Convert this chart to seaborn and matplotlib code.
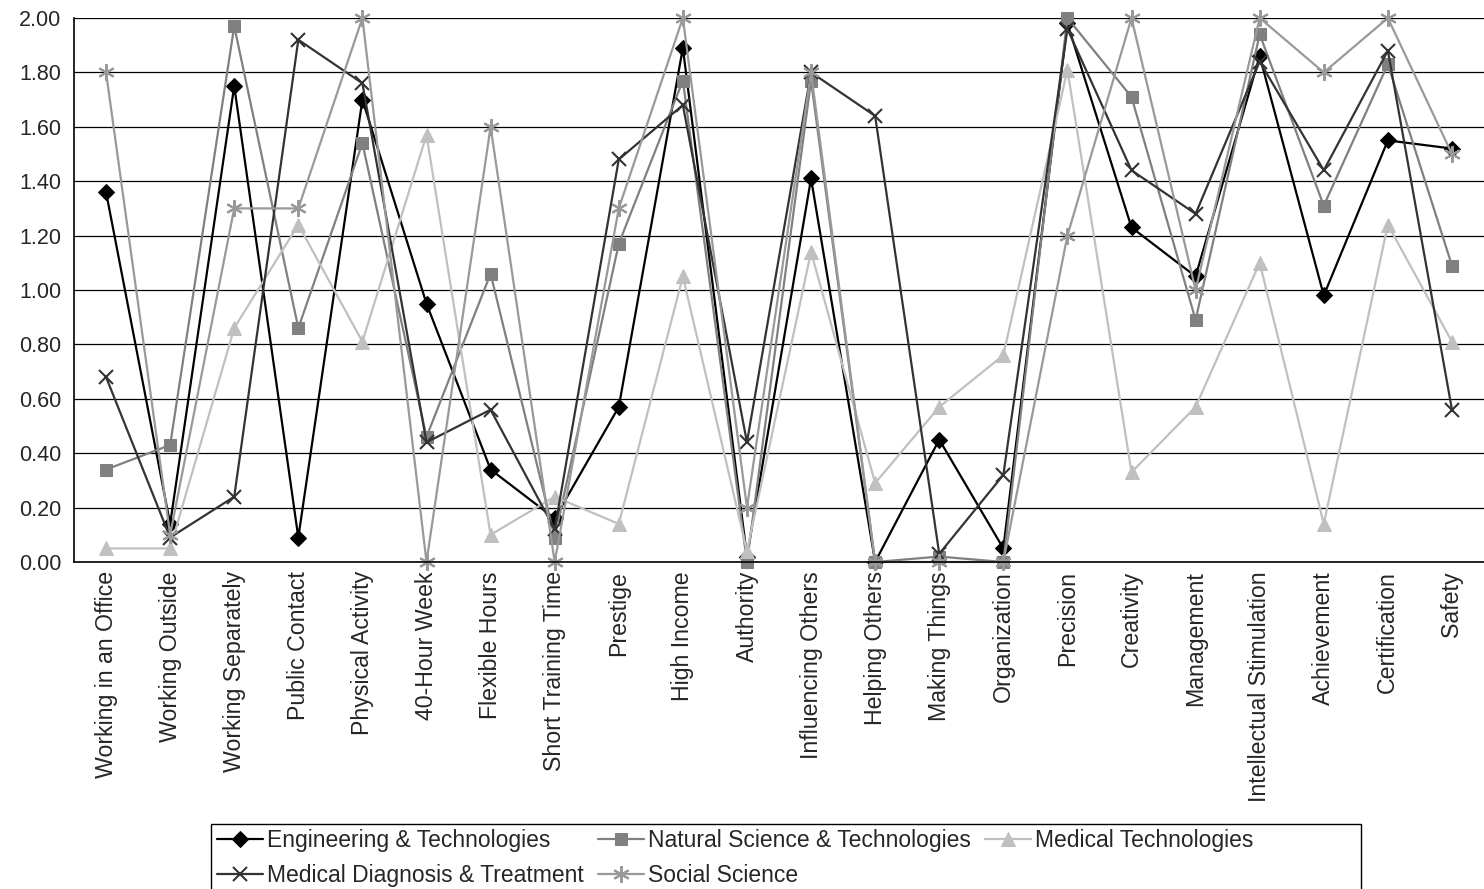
import numpy as np
import pandas as pd
import matplotlib
matplotlib.use("Agg")
import matplotlib.pyplot as plt
from matplotlib.patches import Rectangle
from matplotlib.ticker import FixedLocator, FormatStrFormatter
import seaborn as sns

# Work-value categories along the x axis
categories = [
    "Working in an Office", "Working Outside", "Working Separately", "Public Contact",
    "Physical Activity", "40-Hour Week", "Flexible Hours", "Short Training Time",
    "Prestige", "High Income", "Authority", "Influencing Others", "Helping Others",
    "Making Things", "Organization", "Precision", "Creativity", "Management",
    "Intellectual Stimulation", "Achievement", "Certification", "Safety",
]

engineering = [1.36, 0.14, 1.75, 0.09, 1.70, 0.95, 0.34, 0.16, 0.57, 1.89, 0.02,
               1.41, 0.00, 0.45, 0.05, 1.98, 1.23, 1.05, 1.86, 0.98, 1.55, 1.52]
natural_science = [0.34, 0.43, 1.97, 0.86, 1.54, 0.46, 1.06, 0.09, 1.17, 1.77, 0.00,
                   1.77, 0.00, 0.02, 0.00, 2.00, 1.71, 0.89, 1.94, 1.31, 1.83, 1.09]
medical_tech = [0.05, 0.05, 0.86, 1.24, 0.81, 1.57, 0.10, 0.24, 0.14, 1.05, 0.04,
                1.14, 0.29, 0.57, 0.76, 1.81, 0.33, 0.57, 1.10, 0.14, 1.24, 0.81]
medical_diag = [0.68, 0.09, 0.24, 1.92, 1.76, 0.44, 0.56, 0.12, 1.48, 1.68, 0.44,
                1.80, 1.64, 0.03, 0.32, 1.96, 1.44, 1.28, 1.84, 1.44, 1.88, 0.56]
social_science = [1.80, 0.10, 1.30, 1.30, 2.00, 0.00, 1.60, 0.00, 1.30, 2.00, 0.20,
                  1.80, 0.00, 0.00, 0.00, 1.20, 2.00, 1.00, 2.00, 1.80, 2.00, 1.50]

series_names = [
    "Engineering & Technologies",
    "Natural Science & Technologies",
    "Medical Technologies",
    "Medical Diagnosis & Treatment",
    "Social Science",
]
series_values = [engineering, natural_science, medical_tech, medical_diag, social_science]

styles = {
    "Engineering & Technologies": dict(color="#000000", marker="D", ms=8.5, mec="#000000"),
    "Natural Science & Technologies": dict(color="#808080", marker="s", ms=9, mec="#808080"),
    "Medical Technologies": dict(color="#C0C0C0", marker="^", ms=10, mec="#C0C0C0"),
    "Medical Diagnosis & Treatment": dict(color="#333333", marker="x", ms=10, mec="#333333", mew=1.5),
    "Social Science": dict(color="#999999", marker=(6, 2, 0), ms=12, mec="#999999", mew=1.5),
}

rows = []
for name, vals in zip(series_names, series_values):
    for i, (cat, v) in enumerate(zip(categories, vals)):
        rows.append({"series": name, "category": cat, "pos": i, "value": v})
df = pd.DataFrame(rows)

sns.set_style("white")
plt.rcParams["font.family"] = ["Liberation Sans", "DejaVu Sans"]

W, H = 1484, 889
fig = plt.figure(figsize=(W / 100, H / 100), dpi=100)
ax = fig.add_axes([74 / W, 1 - 562 / H, (W - 74) / W, (562 - 18) / H])

for name in series_names:
    st = styles[name]
    sub = df[df["series"] == name]
    kw = dict(marker=st["marker"], markersize=st["ms"], markeredgecolor=st["mec"],
              markerfacecolor=st["color"], clip_on=False)
    if "mew" in st:
        kw["markeredgewidth"] = st["mew"]
    sns.lineplot(data=sub, x="pos", y="value", ax=ax, color=st["color"], linewidth=1.6,
                 label=name, sort=False, estimator=None, errorbar=None, **kw)

ax.set_xlim(-0.5, len(categories) - 0.5)
ax.set_ylim(0, 2.0)
ax.set_yticks(np.arange(0, 2.01, 0.2))
ax.yaxis.set_major_formatter(FormatStrFormatter("%.2f"))
ax.yaxis.grid(True, color="#000000", linewidth=0.9)
ax.set_axisbelow(True)

ax.set_xticks(np.arange(len(categories)))
ax.set_xticklabels(categories, rotation=90, fontsize=16.7)
ax.xaxis.set_minor_locator(FixedLocator(np.arange(len(categories) + 1) - 0.5))
ax.tick_params(axis="x", which="major", length=0, pad=6.5)
ax.tick_params(axis="x", which="minor", length=6, width=1, color="#000000", direction="out")
ax.tick_params(axis="y", which="major", length=6, width=1, color="#000000",
               direction="out", labelsize=15.5, pad=3)
ax.set_xlabel("")
ax.set_ylabel("")

for side in ("top", "right"):
    ax.spines[side].set_visible(False)
for side in ("left", "bottom"):
    ax.spines[side].set_color("#000000")
    ax.spines[side].set_linewidth(1.2)

# Legend: row-major order across three columns, inside a plain box
handles, labels = ax.get_legend_handles_labels()
if ax.get_legend():
    ax.get_legend().remove()
order = [0, 3, 1, 4, 2]
leg = fig.legend([handles[i] for i in order], [labels[i] for i in order],
                 loc="upper left", bbox_to_anchor=(217 / W, 1 - 829 / H),
                 ncol=3, frameon=False, fontsize=16.5,
                 handlelength=2.0, handletextpad=0.2, columnspacing=0.6,
                 labelspacing=0.53, borderpad=0, borderaxespad=0)
fig.add_artist(Rectangle((211 / W, 1 - 900 / H), (1361 - 211) / W, (900 - 824) / H,
                         transform=fig.transFigure, fill=False,
                         edgecolor="#000000", linewidth=1.0))

fig.savefig("out.png", dpi=100)
